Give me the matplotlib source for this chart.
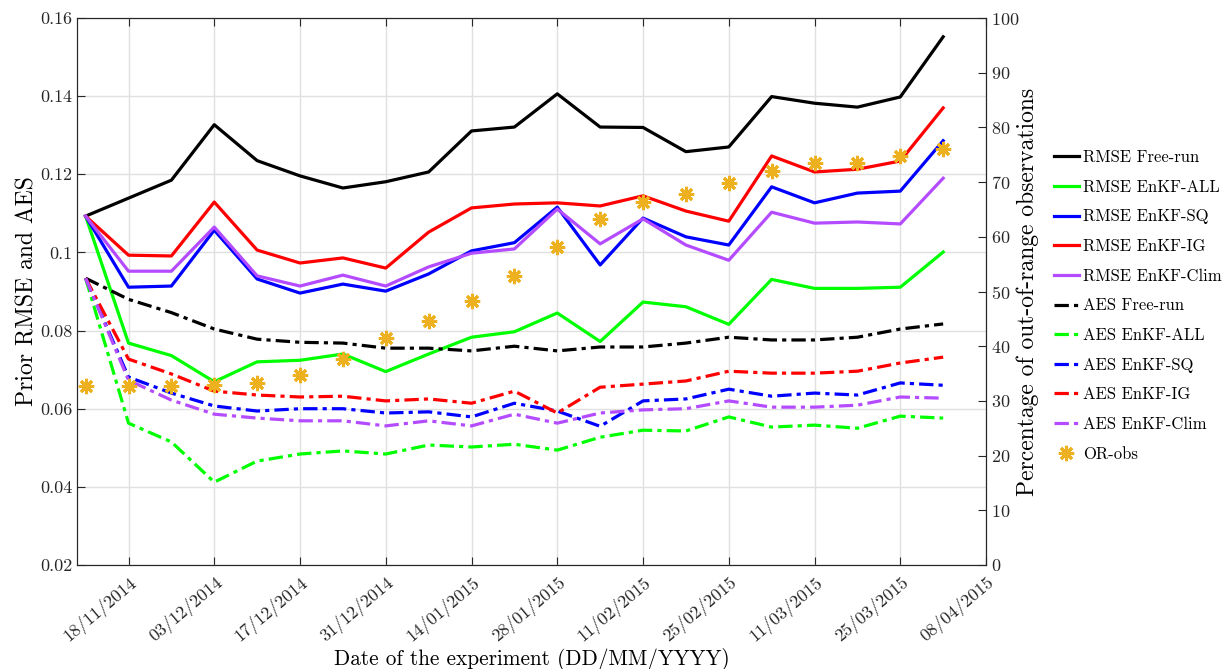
import matplotlib
matplotlib.use("Agg")
from matplotlib import pyplot as plt
from matplotlib.ticker import FuncFormatter

plt.rcParams['font.family'] = ['cmr10', 'DejaVu Serif']
plt.rcParams['mathtext.fontset'] = 'cm'
plt.rcParams['axes.formatter.use_mathtext'] = True

# weekly experiments (index) and the date ticks shown every two weeks
n_exp = 21
tick_pos = [1, 3, 5, 7, 9, 11, 13, 15, 17, 19, 21]
tick_labels = ["18/11/2014", "03/12/2014", "17/12/2014", "31/12/2014", "14/01/2015",
               "28/01/2015", "11/02/2015", "25/02/2015", "11/03/2015", "25/03/2015",
               "08/04/2015"]

rmse_free = [0.1093, 0.1139, 0.1185, 0.1327, 0.1235, 0.1196, 0.1165, 0.1181, 0.1206, 0.1311, 0.1321,
             0.1406, 0.1321, 0.1320, 0.1258, 0.1270, 0.1399, 0.1382, 0.1372, 0.1398, 0.1552]
rmse_all = [0.1093, 0.0768, 0.0736, 0.0669, 0.0720, 0.0724, 0.0740, 0.0695, 0.0740, 0.0783, 0.0797,
            0.0845, 0.0772, 0.0873, 0.0861, 0.0816, 0.0931, 0.0908, 0.0908, 0.0911, 0.1001]
rmse_sq = [0.1093, 0.0911, 0.0914, 0.1057, 0.0932, 0.0896, 0.0919, 0.0901, 0.0945, 0.1004, 0.1025,
           0.1116, 0.0968, 0.1088, 0.1040, 0.1019, 0.1168, 0.1127, 0.1152, 0.1157, 0.1286]
rmse_ig = [0.1093, 0.0993, 0.0991, 0.1129, 0.1006, 0.0973, 0.0986, 0.0960, 0.1052, 0.1114, 0.1124,
           0.1127, 0.1119, 0.1145, 0.1106, 0.1080, 0.1247, 0.1206, 0.1213, 0.1234, 0.1370]
rmse_clim = [0.1093, 0.0952, 0.0952, 0.1065, 0.0940, 0.0914, 0.0942, 0.0914, 0.0963, 0.0998, 0.1009,
             0.1111, 0.1022, 0.1086, 0.1019, 0.0980, 0.1103, 0.1075, 0.1078, 0.1073, 0.1190]

aes_free = [0.0934, 0.0880, 0.0846, 0.0804, 0.0778, 0.0770, 0.0768, 0.0755, 0.0755, 0.0748, 0.0760,
            0.0748, 0.0758, 0.0758, 0.0768, 0.0783, 0.0776, 0.0776, 0.0783, 0.0804, 0.0817]
aes_all = [0.0934, 0.0563, 0.0515, 0.0412, 0.0466, 0.0484, 0.0492, 0.0484, 0.0507, 0.0502, 0.0509,
           0.0494, 0.0527, 0.0545, 0.0543, 0.0579, 0.0553, 0.0558, 0.0550, 0.0581, 0.0576]
aes_sq = [0.0934, 0.0681, 0.0640, 0.0607, 0.0594, 0.0600, 0.0600, 0.0589, 0.0592, 0.0579, 0.0614,
          0.0594, 0.0555, 0.0620, 0.0625, 0.0650, 0.0632, 0.0640, 0.0635, 0.0666, 0.0660]
aes_ig = [0.0934, 0.0727, 0.0689, 0.0645, 0.0635, 0.0630, 0.0632, 0.0620, 0.0625, 0.0614, 0.0645,
          0.0589, 0.0655, 0.0663, 0.0671, 0.0696, 0.0691, 0.0691, 0.0696, 0.0717, 0.0732]
aes_clim = [0.0934, 0.0673, 0.0622, 0.0586, 0.0576, 0.0569, 0.0569, 0.0556, 0.0569, 0.0556, 0.0586,
            0.0563, 0.0589, 0.0597, 0.0600, 0.0620, 0.0604, 0.0604, 0.0609, 0.0630, 0.0627]

or_obs = [32.7, 32.7, 32.7, 32.9, 33.3, 34.7, 37.7, 41.5, 44.6, 48.2, 52.8,
          58.1, 63.3, 66.4, 67.8, 69.8, 72.0, 73.5, 73.5, 74.8, 76.0]

colors = {"Free-run": "black", "EnKF-ALL": "#00FF00", "EnKF-SQ": "#0000FF",
          "EnKF-IG": "#FF0000", "EnKF-Clim": "#B44BFF"}

x = list(range(n_exp))

fig = plt.figure(figsize=(12.29, 6.69), dpi=100)
ax = fig.add_axes([0.0627, 0.1555, 0.7396, 0.8175])

handles = []
for name, vals in [("Free-run", rmse_free), ("EnKF-ALL", rmse_all), ("EnKF-SQ", rmse_sq),
                   ("EnKF-IG", rmse_ig), ("EnKF-Clim", rmse_clim)]:
    h, = ax.plot(x, vals, '-', color=colors[name], lw=2.3, label="RMSE " + name)
    handles.append(h)
for name, vals in [("Free-run", aes_free), ("EnKF-ALL", aes_all), ("EnKF-SQ", aes_sq),
                   ("EnKF-IG", aes_ig), ("EnKF-Clim", aes_clim)]:
    h, = ax.plot(x, vals, color=colors[name], lw=2.3, dashes=(4.5, 1.6, 1.3, 1.6),
                 label="AES " + name)
    handles.append(h)

ax.set_xlim(-0.2, 21)
ax.set_ylim(0.02, 0.16)
ax.set_yticks([0.02, 0.04, 0.06, 0.08, 0.10, 0.12, 0.14, 0.16])
ax.yaxis.set_major_formatter(FuncFormatter(lambda v, p: "%g" % round(v, 4)))
ax.set_xticks(tick_pos)
ax.set_xticklabels(tick_labels, rotation=40, ha='right', rotation_mode='anchor')
ax.grid(True, color='#e0e0e0', lw=1)
ax.set_axisbelow(True)
ax.tick_params(direction='in', length=6, labelsize=13, top=True, right=False, colors='#262626')
ax.tick_params(axis='x', pad=6)
for s in ax.spines.values():
    s.set_color('#262626')
ax.set_ylabel("Prior RMSE and AES", fontsize=17, labelpad=1)
ax.set_xlabel("Date of the experiment (DD/MM/YYYY)", fontsize=15.3, labelpad=2)

ax2 = ax.twinx()
h, = ax2.plot(x, or_obs, ls='none', marker=(8, 2, 0), ms=11, mew=2.2,
              color='#EDB120', label="OR-obs")
handles.append(h)
ax2.set_ylim(0, 100)
ax2.set_yticks(range(0, 101, 10))
ax2.tick_params(direction='in', length=6, labelsize=13, colors='#262626')
ax2.set_ylabel("Percentage of out-of-range observations", fontsize=17, labelpad=-2)
for s in ax2.spines.values():
    s.set_color('#262626')

fig.legend(handles=handles, loc='upper left', bbox_to_anchor=(0.852, 0.786),
           frameon=False, fontsize=12, handlelength=1.5, handletextpad=0.25,
           labelspacing=0.86, borderaxespad=0)

fig.savefig("out.png", dpi=100)
